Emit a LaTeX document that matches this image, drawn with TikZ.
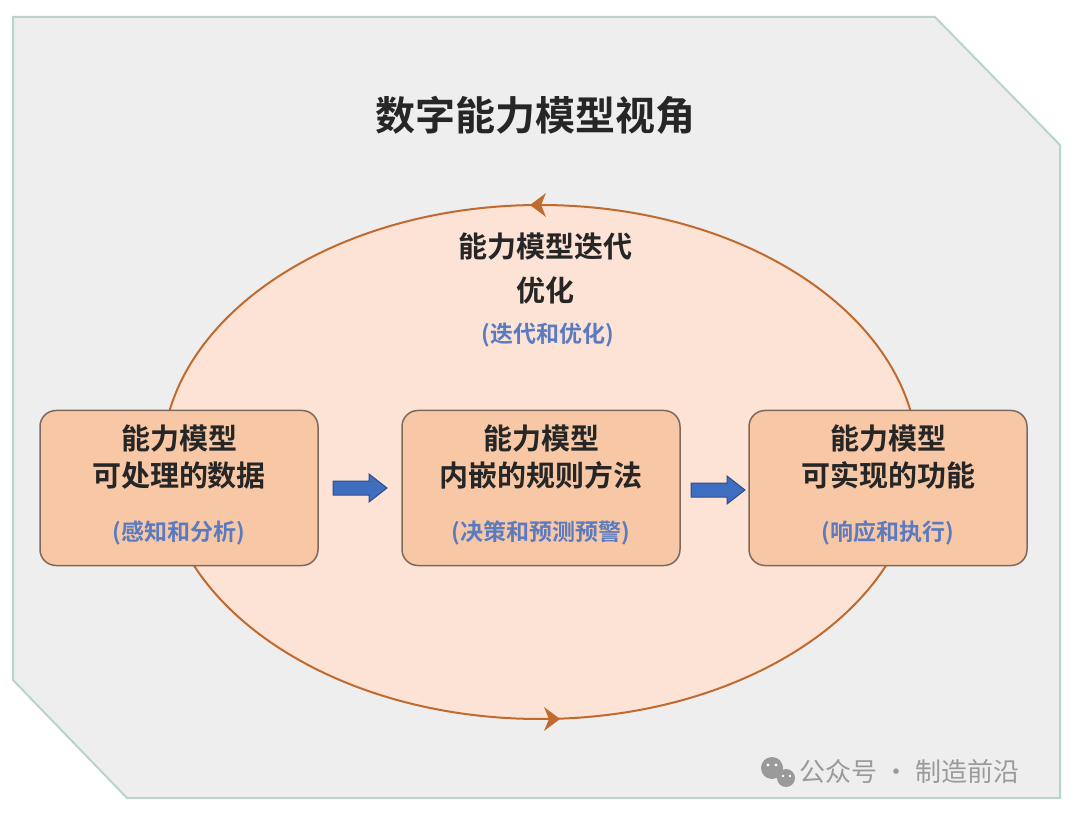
\documentclass[tikz,border=0pt]{standalone}
\usepackage{fontspec}
\setmainfont{Noto Sans CJK SC}
\newfontfamily\cjkb{Noto Sans CJK SC Bold}
\usetikzlibrary{arrows.meta,calc}
\definecolor{bgc}{HTML}{EEEEEE}
\definecolor{framec}{HTML}{B9D3CF}
\definecolor{ellf}{HTML}{FDE3D5}
\definecolor{elld}{HTML}{C06A30}
\definecolor{boxf}{HTML}{F8C8A6}
\definecolor{boxd}{HTML}{7D6A5C}
\definecolor{subc}{HTML}{5A7BC0}
\definecolor{arrc}{HTML}{3F6EC0}
\definecolor{wmc}{HTML}{9A9A9A}
\tikzset{
 stepbox/.style={draw=boxd,line width=1.5pt,fill=boxf,rounded corners=16pt,minimum width=278pt,minimum height=155pt},
 maintxt/.style={font=\cjkb\fontsize{29}{37}\selectfont,text=black!85,align=center},
 subtxt/.style={font=\cjkb\fontsize{23}{27}\selectfont,text=subc},
 blockarr/.style={draw=arrc!70!black,fill=arrc,line width=1pt},
 chev/.style={fill=elld}
}
\begin{document}
\begin{tikzpicture}[x=1pt,y=-1pt]
\useasboundingbox (0,0) rectangle (1080,818);
\fill[white] (0,0) rectangle (1080,818);
\draw[framec,line width=2pt,fill=bgc] (13,17) -- (935,17) -- (1060,145) -- (1060,798) -- (127,798) -- (13,680) -- cycle;
\node[font=\cjkb\fontsize{40}{46}\selectfont,text=black!85] (title) at (535,115) {数字能力模型视角};
\draw[elld,line width=2pt,fill=ellf] (540,462) ellipse [x radius=378,y radius=257];
\coordinate (topc) at (530,205);
\coordinate (botc) at (560,719);
\fill[chev] (topc) -- ++(16,-12) -- ++(-5,12) -- ++(5,12) -- cycle;
\fill[chev] (botc) -- ++(-16,-12) -- ++(5,12) -- ++(-5,12) -- cycle;
\node[maintxt] (loop1) at (545,247) {能力模型迭代};
\node[maintxt] (loop2) at (545,290) {优化};
\node[subtxt] (loop3) at (548,335) {(迭代和优化)};
\node[stepbox] (b1) at (179,488) {};
\node[stepbox] (b2) at (541,488) {};
\node[stepbox] (b3) at (888,488) {};
\node[maintxt] at (179,457) {能力模型\\可处理的数据};
\node[subtxt] at (179,533) {(感知和分析)};
\node[maintxt] at (541,457) {能力模型\\内嵌的规则方法};
\node[subtxt] at (541,533) {(决策和预测预警)};
\node[maintxt] at (888,457) {能力模型\\可实现的功能};
\node[subtxt] at (888,533) {(响应和执行)};
\coordinate (a1) at (333,488);
\coordinate (a2) at (691,490);
\draw[blockarr] (a1) ++(0,-7) -- ++(36,0) -- ++(0,-7) -- ++(18,14) -- ++(-18,14) -- ++(0,-7) -- ++(-36,0) -- cycle;
\draw[blockarr] (a2) ++(0,-7) -- ++(36,0) -- ++(0,-7) -- ++(18,14) -- ++(-18,14) -- ++(0,-7) -- ++(-36,0) -- cycle;
\fill[wmc] (772,768) circle (11);
\fill[white] (768,765) circle (1.6) (776,765) circle (1.6);
\fill[wmc] (786,778) circle (9);
\fill[white] (783,776) circle (1.3) (790,776) circle (1.3);
\node[font=\fontsize{26}{30}\selectfont,text=wmc,anchor=west] (wm) at (796,772) {公众号 · 制造前沿};
\end{tikzpicture}
\end{document}
